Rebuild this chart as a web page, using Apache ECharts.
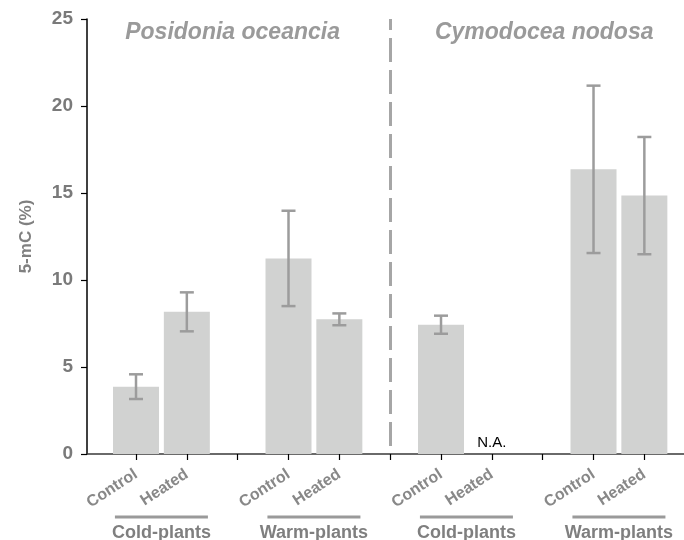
<!DOCTYPE html>
<html>
<head>
<meta charset="utf-8">
<script src="https://cdn.jsdelivr.net/npm/echarts@6/dist/echarts.min.js"></script>
<style>html,body{margin:0;padding:0;background:#fff}#chart{width:684px;height:540px}</style>
</head>
<body>
<div id="chart"></div>
<script>
// ---- data ----
const slots = [1, 2, 4, 5, 7, 8, 10, 11];
const treatments = ['Control', 'Heated', 'Control', 'Heated', 'Control', 'Heated', 'Control', 'Heated'];
const means = [3.87, 8.17, 11.24, 7.74, 7.43, null, 16.36, 14.85];
const errors = [0.71, 1.12, 2.74, 0.34, 0.52, null, 4.81, 3.37];
const groupNames = ['Cold-plants', 'Warm-plants', 'Cold-plants', 'Warm-plants'];
const groupCenters = [1.5, 4.5, 7.5, 10.5];
const speciesNames = ['Posidonia oceancia', 'Cymodocea nodosa'];
const speciesCenters = [2.9, 9.03];
const dividerSlot = 6;
const tickSlots = [1, 2, 3, 4, 5, 6, 7, 8, 9, 10, 11];

const FONT = '"Liberation Sans", Arial, Helvetica, sans-serif';
const labelMap = {};
slots.forEach((s, i) => labelMap[s] = treatments[i]);

const barData = slots.map((s, i) => {
  if (means[i] === null) {
    return { value: [s, 0], label: { show: true, formatter: 'N.A.' } };
  }
  return { value: [s, means[i]] };
});
const errData = [];
slots.forEach((s, i) => { if (means[i] !== null) errData.push([s, means[i] - errors[i], means[i] + errors[i]]); });

const chart = echarts.init(document.getElementById('chart'), null, { renderer: 'canvas' });
chart.setOption({
  animation: false,
  backgroundColor: '#ffffff',
  grid: { left: 87, right: 0, top: 19, bottom: 86, containLabel: false },
  xAxis: {
    type: 'value',
    min: 0.036, max: 11.78,
    splitLine: { show: false },
    axisLine: { show: true, onZero: false, lineStyle: { color: '#3a3a3a', width: 1.5 } },
    axisTick: { show: true, length: 6, customValues: tickSlots, lineStyle: { color: '#000', width: 1.2 } },
    axisLabel: {
      customValues: slots,
      rotate: 33, margin: 19,
      formatter: v => labelMap[v] || '',
      color: '#888888', fontWeight: 'bold', fontSize: 16, fontFamily: FONT
    }
  },
  yAxis: {
    type: 'value', min: 0, max: 25, interval: 5,
    splitLine: { show: false },
    axisLine: { show: true, lineStyle: { color: '#000', width: 1.5 } },
    axisTick: { show: true, length: 6, lineStyle: { color: '#000', width: 1.2 } },
    axisLabel: { color: '#7a7a7a', fontWeight: 'bold', fontSize: 19, fontFamily: FONT, margin: 14 },
    name: '5-mC (%)', nameLocation: 'middle', nameGap: 52, nameRotate: 90,
    nameTextStyle: { color: '#808080', fontWeight: 'bold', fontSize: 17, fontFamily: FONT }
  },
  series: [
    {
      type: 'bar',
      barWidth: 46,
      itemStyle: { color: '#d1d2d1' },
      label: { show: false, position: 'top', distance: 4, color: '#000', fontSize: 15, fontFamily: FONT },
      data: barData,
      markLine: {
        silent: true, symbol: 'none', label: { show: false },
        lineStyle: { color: '#a6a6a6', width: 3, type: [24, 8], dashOffset: 24 },
        data: [{ xAxis: dividerSlot }]
      }
    },
    {
      type: 'custom',
      data: errData,
      renderItem: (params, api) => {
        const lo = api.coord([api.value(0), api.value(1)]);
        const hi = api.coord([api.value(0), api.value(2)]);
        const w = 7;
        const st = { stroke: '#9c9c9c', lineWidth: 2.5 };
        return { type: 'group', children: [
          { type: 'line', shape: { x1: lo[0], y1: lo[1], x2: hi[0], y2: hi[1] }, style: st },
          { type: 'line', shape: { x1: lo[0] - w, y1: lo[1], x2: lo[0] + w, y2: lo[1] }, style: st },
          { type: 'line', shape: { x1: hi[0] - w, y1: hi[1], x2: hi[0] + w, y2: hi[1] }, style: st }
        ]};
      },
      z: 5
    },
    {
      type: 'custom',
      clip: false,
      data: groupCenters.map(c => [c, 0]),
      renderItem: (params, api) => {
        const p = api.coord([api.value(0), 0]);
        return { type: 'group', children: [
          { type: 'line', shape: { x1: p[0] - 46.5, y1: p[1] + 63, x2: p[0] + 46.5, y2: p[1] + 63 }, style: { stroke: '#9a9a9a', lineWidth: 3 } },
          { type: 'text', x: p[0], y: p[1] + 79, style: { text: groupNames[params.dataIndex], align: 'center', verticalAlign: 'middle', font: 'bold 18px ' + FONT, fill: '#7f7f7f' } }
        ]};
      }
    },
    {
      type: 'custom',
      clip: false,
      data: speciesCenters.map(c => [c, 25]),
      renderItem: (params, api) => {
        const p = api.coord([api.value(0), api.value(1)]);
        return { type: 'text', x: p[0], y: p[1] + 14, style: { text: speciesNames[params.dataIndex], align: 'center', verticalAlign: 'middle', font: 'italic bold 23px ' + FONT, fill: '#9a9a9a' } };
      }
    }
  ]
});
</script>
</body>
</html>
